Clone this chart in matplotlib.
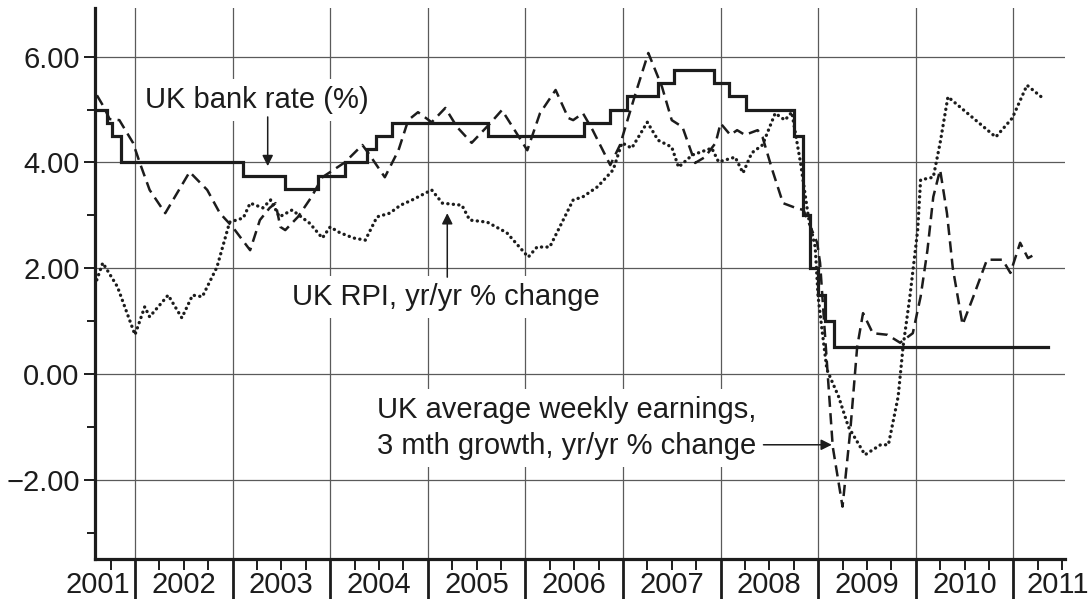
import matplotlib
matplotlib.use("Agg")
import matplotlib.pyplot as plt
from matplotlib.ticker import FixedLocator, NullFormatter
import matplotlib.transforms as mtransforms

plt.rcParams['font.family'] = ['Liberation Sans', 'DejaVu Sans']

# ---- Data (decimal years, values in %) ----
bank_dates = [2001.59, 2001.71, 2001.76, 2001.86, 2003.11, 2003.54, 2003.88, 2004.15,
              2004.38, 2004.47, 2004.63, 2005.62, 2006.60, 2006.87, 2007.04, 2007.36,
              2007.52, 2007.93, 2008.09, 2008.26, 2008.75, 2008.85, 2008.92, 2009.00,
              2009.07, 2009.16, 2011.36]
bank_rate = [5.00, 4.75, 4.50, 4.00, 3.75, 3.50, 3.75, 4.00,
             4.25, 4.50, 4.75, 4.50, 4.75, 5.00, 5.25, 5.50,
             5.75, 5.50, 5.25, 5.00, 4.50, 3.00, 2.00, 1.50,
             1.00, 0.50, 0.50]

awe_dates = [2001.61, 2001.68, 2001.74, 2001.84, 2001.98, 2002.05, 2002.15, 2002.31,
             2002.56, 2002.74, 2002.87, 2003.00, 2003.18, 2003.28, 2003.38, 2003.44,
             2003.49, 2003.54, 2003.67, 2003.81, 2003.92, 2004.15, 2004.33, 2004.39,
             2004.56, 2004.70, 2004.80, 2004.90, 2005.04, 2005.18, 2005.30, 2005.45,
             2005.64, 2005.76, 2005.87, 2006.02, 2006.15, 2006.31, 2006.44, 2006.49,
             2006.59, 2006.69, 2006.87, 2006.97, 2007.13, 2007.26, 2007.40, 2007.50,
             2007.61, 2007.74, 2007.84, 2007.95, 2008.00, 2008.10, 2008.17, 2008.25,
             2008.38, 2008.43, 2008.53, 2008.64, 2008.77, 2008.85, 2008.99, 2009.02,
             2009.09, 2009.15, 2009.25, 2009.33, 2009.40, 2009.46, 2009.56, 2009.71,
             2009.84, 2009.97, 2010.05, 2010.12, 2010.18, 2010.25, 2010.32, 2010.38,
             2010.48, 2010.59, 2010.73, 2010.89, 2010.97, 2011.07, 2011.15, 2011.25]
awe_growth = [5.27, 5.05, 4.82, 4.80, 4.37, 3.99, 3.48, 3.04,
              3.82, 3.48, 3.04, 2.78, 2.34, 2.91, 3.14, 3.23,
              2.78, 2.72, 2.97, 3.35, 3.72, 4.00, 4.33, 4.18,
              3.72, 4.23, 4.80, 4.95, 4.76, 5.03, 4.67, 4.37,
              4.74, 4.99, 4.67, 4.23, 4.93, 5.37, 4.84, 4.80,
              4.93, 4.61, 3.95, 4.33, 5.31, 6.07, 5.43, 4.80,
              4.67, 3.99, 4.10, 4.37, 4.74, 4.52, 4.61, 4.52,
              4.61, 4.48, 3.86, 3.23, 3.14, 3.10, 2.48, 2.10,
              0.21, -1.38, -2.51, -1.06, 0.51, 1.15, 0.77, 0.74,
              0.59, 0.77, 1.46, 2.34, 3.35, 3.86, 3.04, 2.00,
              0.93, 1.46, 2.16, 2.16, 1.91, 2.48, 2.19, 2.29]

rpi_dates = [2001.59, 2001.67, 2001.82, 2002.00, 2002.10, 2002.15, 2002.34, 2002.48,
             2002.59, 2002.69, 2002.84, 2002.97, 2003.11, 2003.18, 2003.31, 2003.39,
             2003.48, 2003.61, 2003.79, 2003.92, 2004.00, 2004.10, 2004.24, 2004.36,
             2004.48, 2004.61, 2004.72, 2004.84, 2005.04, 2005.15, 2005.35, 2005.43,
             2005.61, 2005.81, 2006.03, 2006.12, 2006.25, 2006.49, 2006.59, 2006.74,
             2006.90, 2006.99, 2007.09, 2007.25, 2007.36, 2007.50, 2007.57, 2007.71,
             2007.91, 2007.98, 2008.15, 2008.23, 2008.32, 2008.43, 2008.56, 2008.66,
             2008.73, 2008.82, 2008.90, 2008.97, 2009.00, 2009.04, 2009.09, 2009.21,
             2009.31, 2009.48, 2009.64, 2009.72, 2009.82, 2009.87, 2009.94, 2010.02,
             2010.05, 2010.18, 2010.25, 2010.33, 2010.53, 2010.82, 2010.99, 2011.14,
             2011.30]
rpi_change = [1.68, 2.10, 1.65, 0.74, 1.27, 1.08, 1.49, 1.06,
              1.49, 1.46, 2.02, 2.87, 2.95, 3.23, 3.14, 3.29,
              2.97, 3.10, 2.85, 2.57, 2.78, 2.67, 2.57, 2.53,
              2.97, 3.04, 3.19, 3.29, 3.48, 3.23, 3.19, 2.91,
              2.87, 2.67, 2.21, 2.40, 2.40, 3.29, 3.35, 3.54,
              3.86, 4.37, 4.27, 4.76, 4.42, 4.29, 3.91, 4.14,
              4.27, 4.01, 4.10, 3.80, 4.18, 4.33, 4.93, 4.80,
              4.95, 3.99, 2.97, 2.40, 1.46, 0.83, 0.08, -0.43,
              -1.00, -1.53, -1.34, -1.34, -0.43, 0.51, 1.46, 2.72,
              3.67, 3.72, 4.37, 5.24, 4.93, 4.48, 4.84, 5.46,
              5.22]

year_labels = ['2001', '2002', '2003', '2004', '2005', '2006', '2007', '2008', '2009', '2010', '2011']
year_label_pos = [2001.62, 2002.5, 2003.5, 2004.5, 2005.5, 2006.5, 2007.5, 2008.5, 2009.5, 2010.5, 2011.46]
year_bounds = [2002, 2003, 2004, 2005, 2006, 2007, 2008, 2009, 2010, 2011]
y_ticks = [-2, 0, 2, 4, 6]
y_tick_labels = ['\u22122.00', '0.00', '2.00', '4.00', '6.00']

INK = '#1c1c1c'
GRID = '#5a5a5a'
FS = 21

fig = plt.figure(figsize=(10.89, 5.99), dpi=100)
ax = fig.add_axes([0.0872, 0.0668, 0.8908, 0.9198])
ax.set_xlim(2001.59, 2011.53)
ax.set_ylim(-3.5, 6.92)

# grid
for yv in y_ticks:
    ax.axhline(yv, color=GRID, lw=0.9, zorder=1)
for xv in year_bounds:
    ax.axvline(xv, color=GRID, lw=0.9, zorder=1)

# series
ax.step(bank_dates, bank_rate, where='post', color=INK, lw=2.3, zorder=4,
        solid_joinstyle='miter')
ax.plot(awe_dates, awe_growth, color=INK, lw=1.8, linestyle=(0, (4.5, 2.5)), zorder=4)
ax.plot(rpi_dates, rpi_change, color=INK, lw=2.4, linestyle=(0, (0.05, 1.6)),
        dash_capstyle='round', zorder=4)

# spines
for s in ['top', 'right']:
    ax.spines[s].set_visible(False)
for s in ['left', 'bottom']:
    ax.spines[s].set_linewidth(2.3)
    ax.spines[s].set_color(INK)

# y ticks
ax.yaxis.set_major_locator(FixedLocator(y_ticks))
ax.set_yticklabels(y_tick_labels)
ax.yaxis.set_minor_locator(FixedLocator([-3, -1, 1, 3, 5]))
ax.tick_params(axis='y', which='major', length=8, width=1.4, color=INK,
               labelsize=FS, labelcolor=INK, pad=3)
ax.tick_params(axis='y', which='minor', length=6, width=1.4, color=INK)

# x ticks
ax.xaxis.set_major_locator(FixedLocator(year_bounds))
ax.xaxis.set_major_formatter(NullFormatter())
quarters = [y + q for y in range(2001, 2012) for q in (0.25, 0.5, 0.75)]
ax.xaxis.set_minor_locator(FixedLocator(quarters))
ax.tick_params(axis='x', which='major', length=30, width=2.0, color=INK)
ax.tick_params(axis='x', which='minor', length=8, width=1.4, color=INK)

trans = mtransforms.blended_transform_factory(ax.transData, ax.transAxes)
for lab, pos in zip(year_labels, year_label_pos):
    ax.text(pos, -0.048, lab, transform=trans, ha='center', va='center',
            fontsize=FS, color=INK, clip_on=False)

# annotations
box = dict(facecolor='white', edgecolor='none', pad=5)
ax.text(2003.25, 5.18, 'UK bank rate (%)', ha='center', va='center',
        fontsize=FS, color=INK, bbox=box, zorder=2.5)
ax.annotate('', xy=(2003.36, 3.93), xytext=(2003.36, 4.86),
            arrowprops=dict(arrowstyle='-|>', color=INK, lw=1.1, mutation_scale=16,
                            shrinkA=0, shrinkB=0), zorder=5)

ax.text(2005.19, 1.46, 'UK RPI, yr/yr % change', ha='center', va='center',
        fontsize=FS, color=INK, bbox=box, zorder=2.5)
ax.annotate('', xy=(2005.20, 3.04), xytext=(2005.20, 1.83),
            arrowprops=dict(arrowstyle='-|>', color=INK, lw=1.1, mutation_scale=16,
                            shrinkA=0, shrinkB=0), zorder=5)

ax.text(2004.48, -0.68, 'UK average weekly earnings,', ha='left', va='center',
        fontsize=FS, color=INK, bbox=box, zorder=2.5)
ax.text(2004.48, -1.36, '3 mth growth, yr/yr % change', ha='left', va='center',
        fontsize=FS, color=INK, bbox=box, zorder=2.5)
ax.annotate('', xy=(2009.14, -1.34), xytext=(2008.44, -1.34),
            arrowprops=dict(arrowstyle='-|>', color=INK, lw=1.1, mutation_scale=16,
                            shrinkA=0, shrinkB=0), zorder=5)

fig.savefig('out.png', dpi=100, facecolor='white')
